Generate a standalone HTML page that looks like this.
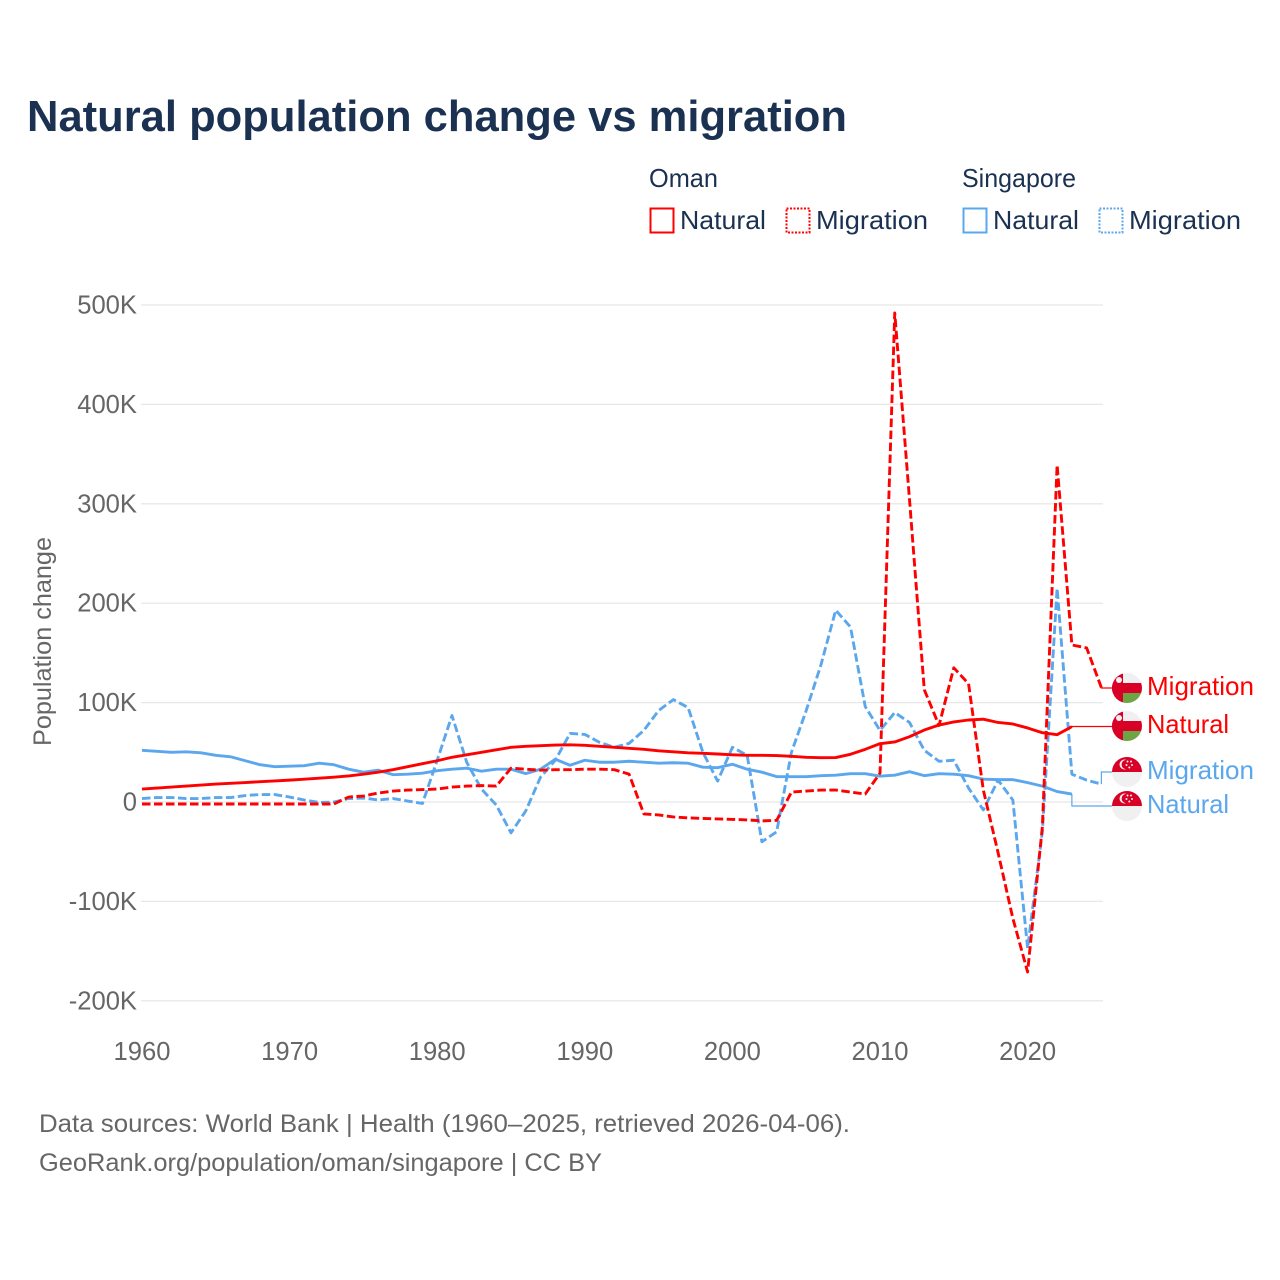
<!DOCTYPE html>
<html lang="en">
<head>
<meta charset="utf-8">
<title>Natural population change vs migration</title>
<style>
html,body{margin:0;padding:0;background:#fff;}
svg{display:block;}
text{font-family:"Liberation Sans",sans-serif;}
</style>
</head>
<body>
<svg id="chart" xmlns="http://www.w3.org/2000/svg" width="1280" height="1280" viewBox="0 0 1280 1280">
  <rect width="1280" height="1280" fill="#ffffff"/>
  <text x="27" y="131" font-size="44" font-weight="700" fill="#1a3152" textLength="820" lengthAdjust="spacingAndGlyphs">Natural population change vs migration</text>

  <g font-size="26" fill="#1a3152">
    <text x="649" y="187" textLength="69" lengthAdjust="spacingAndGlyphs">Oman</text>
    <text x="962" y="187" textLength="114" lengthAdjust="spacingAndGlyphs">Singapore</text>
    <rect x="650.5" y="208.5" width="23" height="24" fill="none" stroke="#ff0000" stroke-width="2"/>
    <text x="680" y="229" textLength="86" lengthAdjust="spacingAndGlyphs">Natural</text>
    <rect x="786.5" y="208.5" width="23" height="24" fill="none" stroke="#ff0000" stroke-width="2" stroke-dasharray="2 1.5"/>
    <text x="816" y="229" textLength="112" lengthAdjust="spacingAndGlyphs">Migration</text>
    <rect x="963.5" y="208.5" width="23" height="24" fill="none" stroke="#5ba7ee" stroke-width="2"/>
    <text x="993" y="229" textLength="86" lengthAdjust="spacingAndGlyphs">Natural</text>
    <rect x="1099.5" y="208.5" width="23" height="24" fill="none" stroke="#5ba7ee" stroke-width="2" stroke-dasharray="2 1.5"/>
    <text x="1129" y="229" textLength="112" lengthAdjust="spacingAndGlyphs">Migration</text>
  </g>

  <g id="grid"></g>
  <g id="yticks" font-size="25.6" fill="#666666"></g>
  <g id="xticks" font-size="25.6" fill="#666666"></g>
  <text transform="translate(51,746) rotate(-90)" font-size="25" fill="#666666" textLength="209" lengthAdjust="spacingAndGlyphs">Population change</text>

  <g id="connectors"></g>
  <g id="series"></g>

  <defs>
    <clipPath id="flag-clip"><circle cx="0" cy="0" r="15"/></clipPath>
  </defs>

  <g transform="translate(1127,688)">
    <g clip-path="url(#flag-clip)">
      <rect x="-15" y="-15" width="30" height="30" fill="#f0f0f0"/>
      <rect x="-15" y="-5" width="30" height="10" fill="#d80027"/>
      <rect x="-4" y="5" width="19" height="10" fill="#6da544"/>
      <rect x="-15" y="-15" width="11" height="30" fill="#d80027"/>
      <circle cx="-8" cy="-8" r="3" fill="#f0f0f0"/>
    </g>
  </g>
  <g transform="translate(1127,726)">
    <g clip-path="url(#flag-clip)">
      <rect x="-15" y="-15" width="30" height="30" fill="#f0f0f0"/>
      <rect x="-15" y="-5" width="30" height="10" fill="#d80027"/>
      <rect x="-4" y="5" width="19" height="10" fill="#6da544"/>
      <rect x="-15" y="-15" width="11" height="30" fill="#d80027"/>
      <circle cx="-8" cy="-8" r="3" fill="#f0f0f0"/>
    </g>
  </g>
  <g transform="translate(1127,772)">
    <g clip-path="url(#flag-clip)">
      <rect x="-15" y="-15" width="30" height="30" fill="#f0f0f0"/>
      <rect x="-15" y="-15" width="30" height="15" fill="#d80027"/>
      <circle cx="-2.5" cy="-7.5" r="5" fill="#f0f0f0"/>
      <circle cx="-0.8" cy="-7.5" r="4.6" fill="#d80027"/>
      <circle cx="0.5" cy="-10.5" r="1" fill="#f0f0f0"/>
      <circle cx="4" cy="-10.5" r="1" fill="#f0f0f0"/>
      <circle cx="5" cy="-7" r="1" fill="#f0f0f0"/>
      <circle cx="2.3" cy="-4.5" r="1" fill="#f0f0f0"/>
      <circle cx="-0.5" cy="-7" r="1" fill="#f0f0f0"/>
    </g>
  </g>
  <g transform="translate(1127,806)">
    <g clip-path="url(#flag-clip)">
      <rect x="-15" y="-15" width="30" height="30" fill="#f0f0f0"/>
      <rect x="-15" y="-15" width="30" height="15" fill="#d80027"/>
      <circle cx="-2.5" cy="-7.5" r="5" fill="#f0f0f0"/>
      <circle cx="-0.8" cy="-7.5" r="4.6" fill="#d80027"/>
      <circle cx="0.5" cy="-10.5" r="1" fill="#f0f0f0"/>
      <circle cx="4" cy="-10.5" r="1" fill="#f0f0f0"/>
      <circle cx="5" cy="-7" r="1" fill="#f0f0f0"/>
      <circle cx="2.3" cy="-4.5" r="1" fill="#f0f0f0"/>
      <circle cx="-0.5" cy="-7" r="1" fill="#f0f0f0"/>
    </g>
  </g>

  <g font-size="26">
    <text x="1147" y="695" fill="#ff0000" textLength="107" lengthAdjust="spacingAndGlyphs">Migration</text>
    <text x="1147" y="733" fill="#ff0000" textLength="82" lengthAdjust="spacingAndGlyphs">Natural</text>
    <text x="1147" y="779" fill="#5ba7ee" textLength="107" lengthAdjust="spacingAndGlyphs">Migration</text>
    <text x="1147" y="813" fill="#5ba7ee" textLength="82" lengthAdjust="spacingAndGlyphs">Natural</text>
  </g>

  <g font-size="25" fill="#666666">
    <text x="39" y="1132" textLength="811" lengthAdjust="spacingAndGlyphs">Data sources: World Bank | Health (1960–2025, retrieved 2026-04-06).</text>
    <text x="39" y="1171" textLength="563" lengthAdjust="spacingAndGlyphs">GeoRank.org/population/oman/singapore | CC BY</text>
  </g>
</svg>

<script>
const firstYear = 1960;
const xTickYears = [1960, 1970, 1980, 1990, 2000, 2010, 2020];
const yTickValues = [500, 400, 300, 200, 100, 0, -100, -200];
const yTickLabels = ["500K", "400K", "300K", "200K", "100K", "0", "-100K", "-200K"];

const omanNatural = [13,14,15,16,17,18,18.8,19.6,20.4,21.2,22,23,24,25,26.2,28,30,32.5,35.5,38.5,41.5,45,47.5,50,52.5,55,56,56.7,57.3,57.5,57,56,55,54,53,51.5,50.5,49.5,49,48.3,47.5,47,47,46.7,46,45,44.6,44.7,48,53,58.7,60.4,65.7,72.4,77.4,80.5,82.5,83.3,80,78.5,74.5,69.7,67.7,75.8];
const omanMigration = [-2,-2,-2,-2,-2,-2,-2,-2,-2,-2,-2,-2,-2,-2,5,6,9,11,12,12.5,13,15,16,16.5,16,34,33,32,32.5,32.5,33,33,32.5,28,-12,-13,-15,-16,-16.5,-17,-17.5,-18,-19,-18.5,10,11,12,12,10,8,29,492,304,113,77,135,119,12,-51,-117,-171,-25,339,158,155,115];
const singaporeNatural = [52,51,50,50.5,49.5,47,45.5,41.5,37.5,35.5,36,36.5,39,37.5,33,30,32,27.5,28,29,31.5,33,34,31,33,33,28.5,33,43,37,42,40,40,41,40,39,39.5,39,35,34.5,38,33,30,25.5,25.5,25.5,26.5,27,28.5,28.5,26,27,30.5,26.5,28.5,28,26.5,23,22.5,22.5,19.5,16,10.5,8];
const singaporeMigration = [3.5,4.5,4.5,3.5,3.5,4.5,4.5,6.5,7.5,7.5,5,2,-0.5,0,3.5,4,2,3.5,1,-1.5,42,87,40,13,-3,-31,-9,25,42,69,68,60,55,59,72,92,103,95,50,21,55,47,-40,-30,50,92,138,193,176,96,72,90,80,52,41,42,14,-8,22,2,-147,-30,215,28,22,18];

const SVG_NS = "http://www.w3.org/2000/svg";
const RED = "#ff0000";
const BLUE = "#5ba7ee";
const xScale = function (year) { return 142 + (year - firstYear) * 14.76; };
const yScale = function (value) { return 802 - value * 0.994; };

const gridGroup = document.getElementById("grid");
const yTickGroup = document.getElementById("yticks");
const xTickGroup = document.getElementById("xticks");
const seriesGroup = document.getElementById("series");
const connectorGroup = document.getElementById("connectors");

yTickValues.forEach(function (value, i) {
  const line = document.createElementNS(SVG_NS, "line");
  
  
  line.setAttribute("x1", 141);
  line.setAttribute("x2", 1103);
  line.setAttribute("y1", yScale(value));
  line.setAttribute("y2", yScale(value));
  line.setAttribute("stroke", "#e8e8e8");
  line.setAttribute("stroke-width", 1.3);
  gridGroup.appendChild(line);

  const label = document.createElementNS(SVG_NS, "text");
  
  
  label.setAttribute("x", 137);
  label.setAttribute("y", yScale(value) + 8.5);
  label.setAttribute("text-anchor", "end");
  label.textContent = yTickLabels[i];
  yTickGroup.appendChild(label);
});

xTickYears.forEach(function (year) {
  const label = document.createElementNS(SVG_NS, "text");
  
  
  label.setAttribute("x", xScale(year));
  label.setAttribute("y", 1060);
  label.setAttribute("text-anchor", "middle");
  label.textContent = String(year);
  xTickGroup.appendChild(label);
});

function toPoints(values) {
  return values.map(function (value, i) {
    return xScale(firstYear + i).toFixed(2) + "," + yScale(value).toFixed(2);
  }).join(" ");
}

function addSeries(values, color, dashed, seriesName) {
  const line = document.createElementNS(SVG_NS, "polyline");
  
  
  line.setAttribute("points", toPoints(values));
  line.setAttribute("fill", "none");
  line.setAttribute("stroke", color);
  line.setAttribute("stroke-width", 2.9);
  line.setAttribute("stroke-linejoin", "round");
  if (dashed) {
    line.setAttribute("stroke-dasharray", "8.5 3.5");
  }
  seriesGroup.appendChild(line);
}

function addConnector(values, labelY, color, connectorName) {
  const lastX = xScale(firstYear + values.length - 1);
  const lastY = yScale(values[values.length - 1]);
  const path = document.createElementNS(SVG_NS, "path");
  
  
  path.setAttribute("d", "M" + lastX + " " + lastY + "V" + labelY + "H1113");
  path.setAttribute("fill", "none");
  path.setAttribute("stroke", color);
  path.setAttribute("stroke-width", 1.2);
  connectorGroup.appendChild(path);
}

addConnector(omanMigration, 688, RED, "connector-oman-migration");
addConnector(omanNatural, 726.5, RED, "connector-oman-natural");
addConnector(singaporeMigration, 772, BLUE, "connector-singapore-migration");
addConnector(singaporeNatural, 806, BLUE, "connector-singapore-natural");

addSeries(singaporeMigration, BLUE, true, "line-singapore-migration");
addSeries(singaporeNatural, BLUE, false, "line-singapore-natural");
addSeries(omanMigration, RED, true, "line-oman-migration");
addSeries(omanNatural, RED, false, "line-oman-natural");
</script>
</body>
</html>
